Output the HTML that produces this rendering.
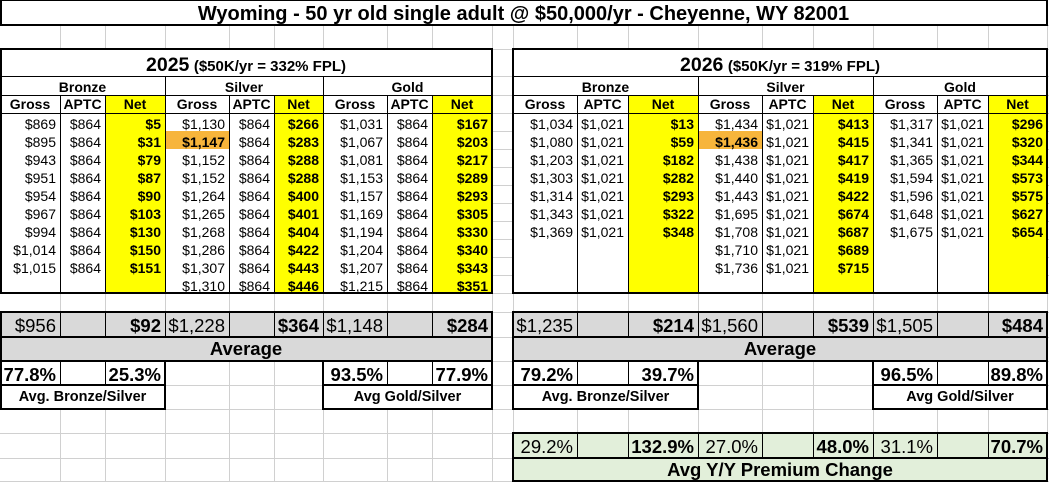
<!DOCTYPE html>
<html><head><meta charset="utf-8">
<style>
html,body{margin:0;padding:0;background:#fff;}
#w{position:relative;width:1049px;height:482px;overflow:hidden;background:#fff;font-family:"Liberation Sans",Arial,sans-serif;color:#000;}
.f{position:absolute;}
.k{position:absolute;background:#000;}
.bx{position:absolute;box-sizing:border-box;border:2px solid #000;}
.row{position:absolute;display:flex;height:18px;font-size:14px;line-height:22px;}
.row span{flex:none;box-sizing:border-box;text-align:right;padding-right:4px;white-space:nowrap;overflow:visible;}
.row span:nth-child(3n){font-weight:bold;}
.L{left:0;}
.L span:nth-child(1){width:60px}.L span:nth-child(2){width:45px}.L span:nth-child(3){width:60px}
.L span:nth-child(4){width:64px}.L span:nth-child(5){width:45px}.L span:nth-child(6){width:49px}
.L span:nth-child(7){width:64px}.L span:nth-child(8){width:45px}.L span:nth-child(9){width:60px}
.R{left:513px;}
.R span:nth-child(1){width:64px}.R span:nth-child(2){width:51px}.R span:nth-child(3){width:70px}
.R span:nth-child(4){width:64px}.R span:nth-child(5){width:51px}.R span:nth-child(6){width:60px}
.R span:nth-child(7){width:64px}.R span:nth-child(8){width:51px}.R span:nth-child(9){width:59px}
.row.hd span{text-align:center;padding-right:0;font-weight:bold;}
.row.hd{line-height:19px;}
.b{font-weight:bold;}
.big{font-size:18.5px;line-height:27px;height:25px;}
.pct span{font-weight:bold;}
.yy span:nth-child(3n+1),.yy span:nth-child(3n+2){font-weight:normal;}
.t{position:absolute;white-space:nowrap;text-align:center;font-weight:bold;}
</style></head><body><div id="w">

<svg class="f" style="left:0;top:0" width="1049" height="482" shape-rendering="crispEdges">
<g stroke="#d0d0d0" stroke-width="1">
<line x1="60.5" y1="0" x2="60.5" y2="482"/><line x1="105.5" y1="0" x2="105.5" y2="482"/><line x1="165.5" y1="0" x2="165.5" y2="482"/><line x1="229.5" y1="0" x2="229.5" y2="482"/><line x1="274.5" y1="0" x2="274.5" y2="482"/><line x1="323.5" y1="0" x2="323.5" y2="482"/><line x1="387.5" y1="0" x2="387.5" y2="482"/><line x1="432.5" y1="0" x2="432.5" y2="482"/><line x1="492.5" y1="0" x2="492.5" y2="482"/><line x1="513.5" y1="0" x2="513.5" y2="482"/><line x1="577.5" y1="0" x2="577.5" y2="482"/><line x1="628.5" y1="0" x2="628.5" y2="482"/><line x1="698.5" y1="0" x2="698.5" y2="482"/><line x1="762.5" y1="0" x2="762.5" y2="482"/><line x1="813.5" y1="0" x2="813.5" y2="482"/><line x1="873.5" y1="0" x2="873.5" y2="482"/><line x1="937.5" y1="0" x2="937.5" y2="482"/><line x1="988.5" y1="0" x2="988.5" y2="482"/><line x1="1047.5" y1="0" x2="1047.5" y2="482"/>
<line x1="0" y1="25.5" x2="1049" y2="25.5"/><line x1="0" y1="49.5" x2="1049" y2="49.5"/><line x1="0" y1="76.5" x2="1049" y2="76.5"/><line x1="0" y1="95.5" x2="1049" y2="95.5"/><line x1="0" y1="113.5" x2="1049" y2="113.5"/><line x1="0" y1="131.5" x2="1049" y2="131.5"/><line x1="0" y1="149.5" x2="1049" y2="149.5"/><line x1="0" y1="167.5" x2="1049" y2="167.5"/><line x1="0" y1="185.5" x2="1049" y2="185.5"/><line x1="0" y1="203.5" x2="1049" y2="203.5"/><line x1="0" y1="221.5" x2="1049" y2="221.5"/><line x1="0" y1="239.5" x2="1049" y2="239.5"/><line x1="0" y1="257.5" x2="1049" y2="257.5"/><line x1="0" y1="275.5" x2="1049" y2="275.5"/><line x1="0" y1="293.5" x2="1049" y2="293.5"/><line x1="0" y1="312.5" x2="1049" y2="312.5"/><line x1="0" y1="337.5" x2="1049" y2="337.5"/><line x1="0" y1="361.5" x2="1049" y2="361.5"/><line x1="0" y1="385.5" x2="1049" y2="385.5"/><line x1="0" y1="409.5" x2="1049" y2="409.5"/><line x1="0" y1="433.5" x2="1049" y2="433.5"/><line x1="0" y1="458.5" x2="1049" y2="458.5"/><line x1="0" y1="481.5" x2="1049" y2="481.5"/>
</g></svg>

<!-- fills -->
<div class="f" style="left:0;top:0;width:1048px;height:25px;background:#fff"></div>
<div class="f" style="left:0;top:49px;width:492px;height:244px;background:#fff"></div>
<div class="f" style="left:513px;top:49px;width:534px;height:244px;background:#fff"></div>
<div class="f" style="left:105px;top:95px;width:60px;height:198px;background:#ffff00"></div>
<div class="f" style="left:274px;top:95px;width:49px;height:198px;background:#ffff00"></div>
<div class="f" style="left:432px;top:95px;width:60px;height:198px;background:#ffff00"></div>
<div class="f" style="left:628px;top:95px;width:70px;height:198px;background:#ffff00"></div>
<div class="f" style="left:813px;top:95px;width:60px;height:198px;background:#ffff00"></div>
<div class="f" style="left:988px;top:95px;width:59px;height:198px;background:#ffff00"></div>
<div class="f" style="left:165px;top:131px;width:64px;height:18px;background:#f7b53b"></div>
<div class="f" style="left:698px;top:131px;width:64px;height:18px;background:#f7b53b"></div>
<div class="f" style="left:0;top:312px;width:492px;height:49px;background:#d9d9d9"></div>
<div class="f" style="left:513px;top:312px;width:534px;height:49px;background:#d9d9d9"></div>
<div class="f" style="left:0;top:361px;width:165px;height:48px;background:#fff"></div>
<div class="f" style="left:323px;top:361px;width:169px;height:48px;background:#fff"></div>
<div class="f" style="left:513px;top:361px;width:185px;height:48px;background:#fff"></div>
<div class="f" style="left:873px;top:361px;width:174px;height:48px;background:#fff"></div>
<div class="f" style="left:513px;top:433px;width:534px;height:49px;background:#e2efda"></div>

<!-- title -->
<div class="t" style="left:0;top:0;width:1047px;height:25px;font-size:20px;line-height:28px;">Wyoming - 50 yr old single adult @ $50,000/yr - Cheyenne, WY 82001</div>

<!-- year headers -->
<div class="t" style="left:0;top:49px;width:492px;height:27px;line-height:33px;"><span style="font-size:19.5px">2025</span> <span style="font-size:15px">($50K/yr = 332% FPL)</span></div>
<div class="t" style="left:513px;top:49px;width:534px;height:27px;line-height:33px;"><span style="font-size:19.5px">2026</span> <span style="font-size:15px">($50K/yr = 319% FPL)</span></div>

<!-- metal rows -->
<div class="t" style="left:0;top:76px;width:165px;font-size:14px;line-height:22px;">Bronze</div>
<div class="t" style="left:165px;top:76px;width:158px;font-size:14px;line-height:22px;">Silver</div>
<div class="t" style="left:323px;top:76px;width:169px;font-size:14px;line-height:22px;">Gold</div>
<div class="t" style="left:513px;top:76px;width:185px;font-size:14px;line-height:22px;">Bronze</div>
<div class="t" style="left:698px;top:76px;width:175px;font-size:14px;line-height:22px;">Silver</div>
<div class="t" style="left:873px;top:76px;width:174px;font-size:14px;line-height:22px;">Gold</div>

<!-- column headers -->
<div class="row L hd" style="top:95px"><span>Gross</span><span>APTC</span><span>Net</span><span>Gross</span><span>APTC</span><span>Net</span><span>Gross</span><span>APTC</span><span>Net</span></div>
<div class="row R hd" style="top:95px"><span>Gross</span><span>APTC</span><span>Net</span><span>Gross</span><span>APTC</span><span>Net</span><span>Gross</span><span>APTC</span><span>Net</span></div>

<!-- left data -->
<div class="row L" style="top:113px"><span>$869</span><span>$864</span><span>$5</span><span>$1,130</span><span>$864</span><span>$266</span><span>$1,031</span><span>$864</span><span>$167</span></div>
<div class="row L" style="top:131px"><span>$895</span><span>$864</span><span>$31</span><span class="b">$1,147</span><span>$864</span><span>$283</span><span>$1,067</span><span>$864</span><span>$203</span></div>
<div class="row L" style="top:149px"><span>$943</span><span>$864</span><span>$79</span><span>$1,152</span><span>$864</span><span>$288</span><span>$1,081</span><span>$864</span><span>$217</span></div>
<div class="row L" style="top:167px"><span>$951</span><span>$864</span><span>$87</span><span>$1,152</span><span>$864</span><span>$288</span><span>$1,153</span><span>$864</span><span>$289</span></div>
<div class="row L" style="top:185px"><span>$954</span><span>$864</span><span>$90</span><span>$1,264</span><span>$864</span><span>$400</span><span>$1,157</span><span>$864</span><span>$293</span></div>
<div class="row L" style="top:203px"><span>$967</span><span>$864</span><span>$103</span><span>$1,265</span><span>$864</span><span>$401</span><span>$1,169</span><span>$864</span><span>$305</span></div>
<div class="row L" style="top:221px"><span>$994</span><span>$864</span><span>$130</span><span>$1,268</span><span>$864</span><span>$404</span><span>$1,194</span><span>$864</span><span>$330</span></div>
<div class="row L" style="top:239px"><span>$1,014</span><span>$864</span><span>$150</span><span>$1,286</span><span>$864</span><span>$422</span><span>$1,204</span><span>$864</span><span>$340</span></div>
<div class="row L" style="top:257px"><span>$1,015</span><span>$864</span><span>$151</span><span>$1,307</span><span>$864</span><span>$443</span><span>$1,207</span><span>$864</span><span>$343</span></div>
<div class="row L" style="top:275px"><span></span><span></span><span></span><span>$1,310</span><span>$864</span><span>$446</span><span>$1,215</span><span>$864</span><span>$351</span></div>

<!-- right data -->
<div class="row R" style="top:113px"><span>$1,034</span><span>$1,021</span><span>$13</span><span>$1,434</span><span>$1,021</span><span>$413</span><span>$1,317</span><span>$1,021</span><span>$296</span></div>
<div class="row R" style="top:131px"><span>$1,080</span><span>$1,021</span><span>$59</span><span class="b">$1,436</span><span>$1,021</span><span>$415</span><span>$1,341</span><span>$1,021</span><span>$320</span></div>
<div class="row R" style="top:149px"><span>$1,203</span><span>$1,021</span><span>$182</span><span>$1,438</span><span>$1,021</span><span>$417</span><span>$1,365</span><span>$1,021</span><span>$344</span></div>
<div class="row R" style="top:167px"><span>$1,303</span><span>$1,021</span><span>$282</span><span>$1,440</span><span>$1,021</span><span>$419</span><span>$1,594</span><span>$1,021</span><span>$573</span></div>
<div class="row R" style="top:185px"><span>$1,314</span><span>$1,021</span><span>$293</span><span>$1,443</span><span>$1,021</span><span>$422</span><span>$1,596</span><span>$1,021</span><span>$575</span></div>
<div class="row R" style="top:203px"><span>$1,343</span><span>$1,021</span><span>$322</span><span>$1,695</span><span>$1,021</span><span>$674</span><span>$1,648</span><span>$1,021</span><span>$627</span></div>
<div class="row R" style="top:221px"><span>$1,369</span><span>$1,021</span><span>$348</span><span>$1,708</span><span>$1,021</span><span>$687</span><span>$1,675</span><span>$1,021</span><span>$654</span></div>
<div class="row R" style="top:239px"><span></span><span></span><span></span><span>$1,710</span><span>$1,021</span><span>$689</span><span></span><span></span><span></span></div>
<div class="row R" style="top:257px"><span></span><span></span><span></span><span>$1,736</span><span>$1,021</span><span>$715</span><span></span><span></span><span></span></div>

<!-- averages -->
<div class="row L big" style="top:312px"><span>$956</span><span></span><span>$92</span><span>$1,228</span><span></span><span>$364</span><span>$1,148</span><span></span><span>$284</span></div>
<div class="row R big" style="top:312px"><span>$1,235</span><span></span><span>$214</span><span>$1,560</span><span></span><span>$539</span><span>$1,505</span><span></span><span>$484</span></div>
<div class="t" style="left:0;top:337px;width:492px;font-size:18.5px;line-height:24px;">Average</div>
<div class="t" style="left:513px;top:337px;width:534px;font-size:18.5px;line-height:24px;">Average</div>

<div class="row L big pct" style="top:361px"><span>77.8%</span><span></span><span>25.3%</span><span></span><span></span><span></span><span>93.5%</span><span></span><span>77.9%</span></div>
<div class="row R big pct" style="top:361px"><span>79.2%</span><span></span><span>39.7%</span><span></span><span></span><span></span><span>96.5%</span><span></span><span>89.8%</span></div>

<div class="t" style="left:0;top:385px;width:165px;font-size:14.5px;line-height:24px;">Avg. Bronze/Silver</div>
<div class="t" style="left:323px;top:385px;width:169px;font-size:14.5px;line-height:24px;">Avg Gold/Silver</div>
<div class="t" style="left:513px;top:385px;width:185px;font-size:14.5px;line-height:24px;">Avg. Bronze/Silver</div>
<div class="t" style="left:873px;top:385px;width:174px;font-size:14.5px;line-height:24px;">Avg Gold/Silver</div>

<div class="row R big yy" style="top:433px"><span>29.2%</span><span></span><span>132.9%</span><span>27.0%</span><span></span><span>48.0%</span><span>31.1%</span><span></span><span>70.7%</span></div>
<div class="t" style="left:513px;top:458px;width:534px;font-size:18.5px;line-height:24px;">Avg Y/Y Premium Change</div>

<!-- thin black lines: left table -->
<div class="k" style="left:0;top:76px;width:492px;height:1px"></div>
<div class="k" style="left:0;top:95px;width:492px;height:1px"></div>
<div class="k" style="left:0;top:113px;width:492px;height:1px"></div>
<div class="k" style="left:165px;top:76px;width:1px;height:217px"></div>
<div class="k" style="left:323px;top:76px;width:1px;height:217px"></div>
<div class="k" style="left:60px;top:95px;width:1px;height:198px"></div>
<div class="k" style="left:105px;top:95px;width:1px;height:198px"></div>
<div class="k" style="left:229px;top:95px;width:1px;height:198px"></div>
<div class="k" style="left:274px;top:95px;width:1px;height:198px"></div>
<div class="k" style="left:387px;top:95px;width:1px;height:198px"></div>
<div class="k" style="left:432px;top:95px;width:1px;height:198px"></div>
<!-- right table -->
<div class="k" style="left:513px;top:76px;width:534px;height:1px"></div>
<div class="k" style="left:513px;top:95px;width:534px;height:1px"></div>
<div class="k" style="left:513px;top:113px;width:534px;height:1px"></div>
<div class="k" style="left:698px;top:76px;width:1px;height:217px"></div>
<div class="k" style="left:873px;top:76px;width:1px;height:217px"></div>
<div class="k" style="left:577px;top:95px;width:1px;height:198px"></div>
<div class="k" style="left:628px;top:95px;width:1px;height:198px"></div>
<div class="k" style="left:762px;top:95px;width:1px;height:198px"></div>
<div class="k" style="left:813px;top:95px;width:1px;height:198px"></div>
<div class="k" style="left:937px;top:95px;width:1px;height:198px"></div>
<div class="k" style="left:988px;top:95px;width:1px;height:198px"></div>

<!-- avg row verticals -->
<div class="k" style="left:60px;top:312px;width:1px;height:25px"></div>
<div class="k" style="left:105px;top:312px;width:1px;height:25px"></div>
<div class="k" style="left:165px;top:312px;width:1px;height:25px"></div>
<div class="k" style="left:229px;top:312px;width:1px;height:25px"></div>
<div class="k" style="left:274px;top:312px;width:1px;height:25px"></div>
<div class="k" style="left:323px;top:312px;width:1px;height:25px"></div>
<div class="k" style="left:387px;top:312px;width:1px;height:25px"></div>
<div class="k" style="left:432px;top:312px;width:1px;height:25px"></div>
<div class="k" style="left:577px;top:312px;width:1px;height:25px"></div>
<div class="k" style="left:628px;top:312px;width:1px;height:25px"></div>
<div class="k" style="left:698px;top:312px;width:1px;height:25px"></div>
<div class="k" style="left:762px;top:312px;width:1px;height:25px"></div>
<div class="k" style="left:813px;top:312px;width:1px;height:25px"></div>
<div class="k" style="left:873px;top:312px;width:1px;height:25px"></div>
<div class="k" style="left:937px;top:312px;width:1px;height:25px"></div>
<div class="k" style="left:988px;top:312px;width:1px;height:25px"></div>
<div class="k" style="left:0;top:336px;width:492px;height:2px"></div>
<div class="k" style="left:513px;top:336px;width:534px;height:2px"></div>

<!-- pct verticals -->
<div class="k" style="left:60px;top:361px;width:1px;height:24px"></div>
<div class="k" style="left:105px;top:361px;width:1px;height:24px"></div>
<div class="k" style="left:387px;top:361px;width:1px;height:24px"></div>
<div class="k" style="left:432px;top:361px;width:1px;height:24px"></div>
<div class="k" style="left:577px;top:361px;width:1px;height:24px"></div>
<div class="k" style="left:628px;top:361px;width:1px;height:24px"></div>
<div class="k" style="left:937px;top:361px;width:1px;height:24px"></div>
<div class="k" style="left:988px;top:361px;width:1px;height:24px"></div>
<div class="k" style="left:0;top:384px;width:165px;height:2px"></div>
<div class="k" style="left:323px;top:384px;width:169px;height:2px"></div>
<div class="k" style="left:513px;top:384px;width:185px;height:2px"></div>
<div class="k" style="left:873px;top:384px;width:174px;height:2px"></div>

<!-- Y/Y verticals -->
<div class="k" style="left:577px;top:433px;width:1px;height:25px"></div>
<div class="k" style="left:628px;top:433px;width:1px;height:25px"></div>
<div class="k" style="left:698px;top:433px;width:1px;height:25px"></div>
<div class="k" style="left:762px;top:433px;width:1px;height:25px"></div>
<div class="k" style="left:813px;top:433px;width:1px;height:25px"></div>
<div class="k" style="left:873px;top:433px;width:1px;height:25px"></div>
<div class="k" style="left:937px;top:433px;width:1px;height:25px"></div>
<div class="k" style="left:988px;top:433px;width:1px;height:25px"></div>
<div class="k" style="left:513px;top:457px;width:534px;height:2px"></div>

<!-- thick boxes -->
<div class="bx" style="left:0;top:0;width:1048px;height:26px;border-top-width:1px"></div>
<div class="bx" style="left:0;top:48px;width:493px;height:246px"></div>
<div class="bx" style="left:512px;top:48px;width:536px;height:246px"></div>
<div class="bx" style="left:0;top:311px;width:493px;height:51px"></div>
<div class="bx" style="left:512px;top:311px;width:536px;height:51px"></div>
<div class="bx" style="left:0;top:360px;width:166px;height:50px"></div>
<div class="bx" style="left:322px;top:360px;width:171px;height:50px"></div>
<div class="bx" style="left:512px;top:360px;width:187px;height:50px"></div>
<div class="bx" style="left:872px;top:360px;width:176px;height:50px"></div>
<div class="bx" style="left:512px;top:432px;width:536px;height:50px"></div>

</div></body></html>
